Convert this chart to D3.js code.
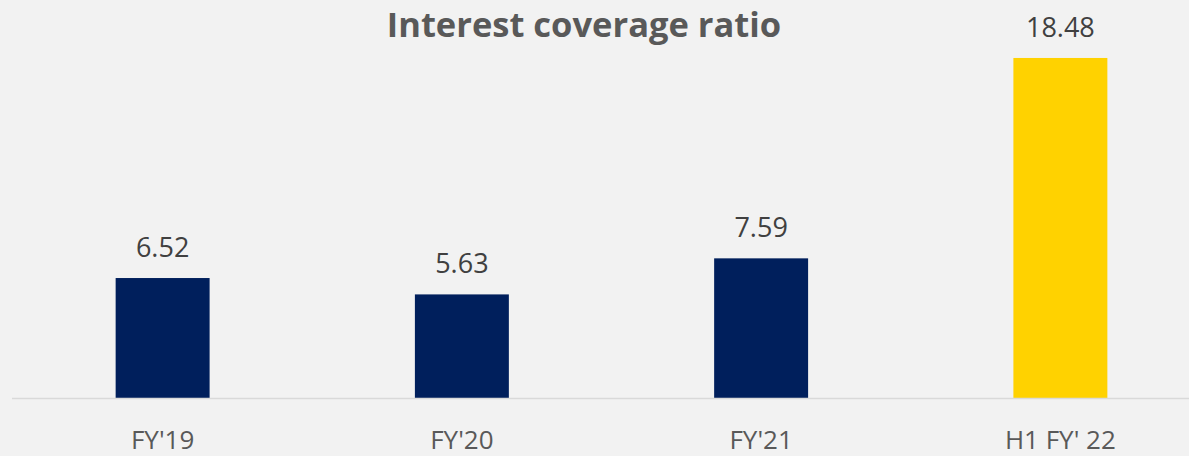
<!DOCTYPE html>
<html>
<head>
<meta charset="utf-8">
<script src="https://cdn.jsdelivr.net/npm/d3@7"></script>
<style>
  body { margin: 0; background: #f2f2f2; }
  svg { display: block; }
</style>
</head>
<body>
<svg class="chart" width="1189" height="456"></svg>
<script>
const categories = ["FY'19", "FY'20", "FY'21", "H1 FY' 22"]
const values = [6.52, 5.63, 7.59, 18.48]
const barColors = ['#001f5c', '#001f5c', '#001f5c', '#ffd200']
const title = 'Interest coverage ratio'

const svg = d3.select('.chart')
const font = 'Open Sans, sans-serif'

svg.append('rect')
  .attr('width', 1189)
  .attr('height', 456)
  .attr('fill', '#f2f2f2')

const x = d3.scaleBand()
  .domain(categories)
  .range([13, 1210])
  .paddingInner(0.686)
  .paddingOuter(0.343)

const y = d3.scaleLinear()
  .domain([0, 20])
  .range([398, 30])

svg.append('g')
  .selectAll('rect')
  .data(values)
  .enter()
  .append('rect')
  .attr('x', (d, i) => x(categories[i]))
  .attr('y', d => y(d))
  .attr('width', x.bandwidth())
  .attr('height', d => y(0) - y(d))
  .attr('fill', (d, i) => barColors[i])

// baseline
svg.append('line')
  .attr('x1', 12)
  .attr('x2', 1189)
  .attr('y1', y(0) + 0.5)
  .attr('y2', y(0) + 0.5)
  .attr('stroke', '#d9d9d9')
  .attr('stroke-width', 1.5)

// value labels
svg.append('g')
  .selectAll('text')
  .data(values)
  .enter()
  .append('text')
  .attr('x', (d, i) => x(categories[i]) + x.bandwidth() / 2)
  .attr('y', d => y(d) - 21)
  .attr('text-anchor', 'middle')
  .attr('font-family', font)
  .attr('font-size', 27)
  .attr('fill', '#404040')
  .text(d => d.toFixed(2))

// category labels
const xAxis = d3.axisBottom(x).tickSize(0).tickPadding(0)
const axisG = svg.append('g')
  .attr('transform', `translate(0, ${y(0)})`)
  .call(xAxis)
axisG.select('.domain').remove()
axisG.selectAll('text')
  .attr('dy', null)
  .attr('y', 51)
  .attr('font-family', font)
  .attr('font-size', 26)
  .attr('fill', '#595959')

svg.append('text')
  .attr('x', 584)
  .attr('y', 37)
  .attr('text-anchor', 'middle')
  .attr('font-family', font)
  .attr('font-weight', 'bold')
  .attr('font-size', 34.5)
  .attr('fill', '#595959')
  .text(title)
</script>
</body>
</html>
